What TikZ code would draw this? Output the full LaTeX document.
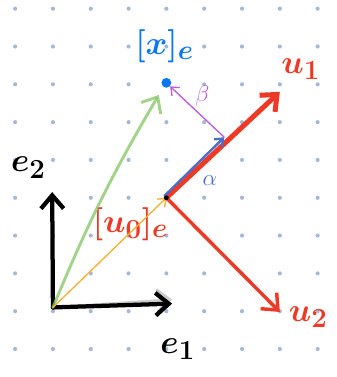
\documentclass[tikz,border=0pt]{standalone}
\usepackage{amsmath}
\usepackage{bm}
\usepackage{xcolor}
\usepackage{tikz}
\usetikzlibrary{arrows.meta, positioning}
\definecolor{myred}   {RGB}{236, 58, 38}
\definecolor{myblue}  {RGB}{ 10,118,240}
\definecolor{mygreen} {RGB}{140,200,110}
\definecolor{myorange}{RGB}{245,175, 50}
\definecolor{mypurple}{RGB}{190, 90,220}
\definecolor{myalpha} {RGB}{ 75,110,200}
\definecolor{mydot}   {RGB}{165,185,215}

\begin{document}
\begin{tikzpicture}[
  dot/.style={circle, fill=mydot, inner sep=0pt, minimum size=1.1mm},
  pt/.style={circle, fill=myblue, inner sep=0pt, minimum size=2.6mm},
  lbl/.style={font=\fontsize{30}{32}\selectfont, inner sep=1pt},
  sml/.style={font=\fontsize{17}{18}\selectfont, inner sep=1pt},
  ar/.style={-{Straight Barb[length=3.5mm, width=6mm]}, line cap=round},
  thin ar/.style={-{Straight Barb[length=1.8mm, width=3mm]}, line cap=round}
]
  \useasboundingbox (-0.4,-0.74) rectangle (8.49,9.23);
  % dotted grid
  \foreach \i in {0,...,8}
    \foreach \j in {0,...,9}
      \node[dot] at (\i,\j) {};
  % points
  \coordinate (o)  at (1,1.1);
  \coordinate (e1) at (4.15,1.2);
  \coordinate (e2) at (0.98,4.15);
  \coordinate (u0) at (4,4);
  \coordinate (u1) at (7,6.8);
  \coordinate (u2) at (7,0.98);
  \coordinate (a)  at (5.53,5.6);
  \node[pt] (x) at (4,7.04) {};
  % labels
  \node[lbl, myblue] (xl)  at (3.95,8.0)  {$\bm{[x]_e}$};
  \node[lbl, myred]  (u0l) at (3.05,3.3)  {$\bm{[u_0]_e}$};
  \node[lbl, myred]  (u1l) at (7.55,7.4)  {$\bm{u_1}$};
  \node[lbl, myred]  (u2l) at (7.75,0.85) {$\bm{u_2}$};
  \node[lbl]         (e1l) at (4.3,0.0)   {$\bm{e_1}$};
  \node[lbl]         (e2l) at (0.35,4.8)  {$\bm{e_2}$};
  \node[sml, myalpha]  (al) at (5.15,4.45) {$\alpha$};
  \node[sml, mypurple] (bl) at (4.95,6.7)  {$\beta$};
  % basis
  \draw[ar, gray!40, line width=2pt] (o) -- ([yshift=3pt]e1);
  \draw[ar, black, line width=3.2pt] (o) -- (e1);
  \draw[ar, black, line width=3.2pt] (o) -- (e2);
  % coordinate vectors
  \draw[ar, mygreen, opacity=0.8, line width=2.2pt] (o) to[bend left=4] ([shift={(-0.2,-0.32)}]x.center);
  \draw[thin ar, myorange, line width=1pt] (o) -- (u0);
  % new basis
  \draw[ar, myred, line width=3.8pt] (u0) -- (u1);
  \draw[ar, myred, line width=2.6pt] (u0) -- (u2);
  \draw[thin ar, myalpha, line width=1.8pt] ([shift={(-0.05,0.05)}]u0) -- (a);
  \draw[thin ar, mypurple, line width=1pt] (a) -- (x);
  \fill[black] (u0) circle (1.8pt);
\end{tikzpicture}
\end{document}
